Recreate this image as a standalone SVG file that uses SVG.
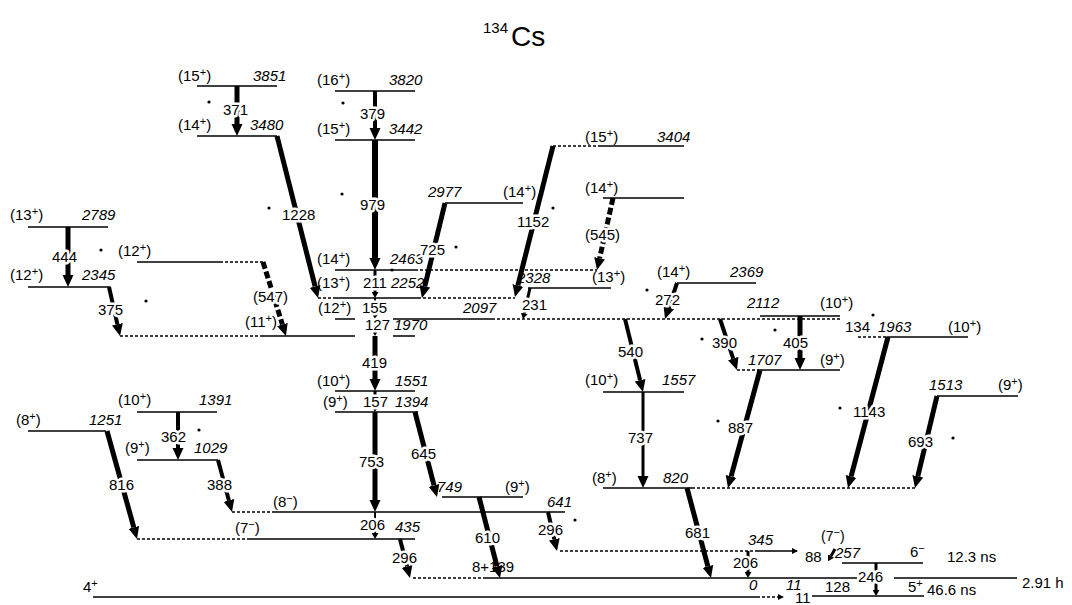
<svg xmlns="http://www.w3.org/2000/svg" width="1072" height="605" viewBox="0 0 1072 605">
<defs>
<style>
text{font-family:"Liberation Sans",Arial,sans-serif;font-size:15px;fill:#000}
.e{font-style:italic}
.t{stroke:#fff;stroke-width:5;stroke-linejoin:round;paint-order:stroke}
.l{stroke:#000;stroke-width:1.5;fill:none}
.d{stroke:#000;stroke-width:1.5;fill:none;stroke-dasharray:3 2}
.g{stroke:#000;fill:none}
.k{stroke-dasharray:7 3}
.p{font-size:11px}
</style>
<marker id="a" viewBox="0 0 12 12" refX="0" refY="6" markerWidth="12" markerHeight="12" markerUnits="userSpaceOnUse" orient="auto"><path d="M0,0.5 L12,6 L0,11.5 z"/></marker>
<marker id="s" viewBox="0 0 7 7" refX="0" refY="3.5" markerWidth="7" markerHeight="7" markerUnits="userSpaceOnUse" orient="auto"><path d="M0,0 L6,3.5 L0,7 z"/></marker>
</defs>
<rect width="1072" height="605" fill="#fff"/>
<g id="title"><text x="483" y="33" font-size="17">134</text><text x="511" y="46" style="font-size:28px">Cs</text></g>

<g id="lv3851"><path class="l" d="M197,86H277"/><text x="178" y="81">(15<tspan class="p" dy="-5">+</tspan><tspan dy="5">)</tspan></text><text class="e" x="253" y="81">3851</text></g>
<g id="lv3480"><path class="l" d="M197,136H277"/><text x="178" y="130">(14<tspan class="p" dy="-5">+</tspan><tspan dy="5">)</tspan></text><text class="e" x="250" y="130">3480</text></g>
<g id="lv3820"><path class="l" d="M335,91H415"/><text x="317" y="85">(16<tspan class="p" dy="-5">+</tspan><tspan dy="5">)</tspan></text><text class="e" x="389" y="85">3820</text></g>
<g id="lv3442"><path class="l" d="M335,140H415"/><text x="317" y="134">(15<tspan class="p" dy="-5">+</tspan><tspan dy="5">)</tspan></text><text class="e" x="389" y="134">3442</text></g>
<g id="lv2789"><path class="l" d="M28,227H108"/><text x="10" y="220">(13<tspan class="p" dy="-5">+</tspan><tspan dy="5">)</tspan></text><text class="e" x="82" y="220">2789</text></g>
<g id="lv2345"><path class="l" d="M28,287H110"/><text x="10" y="280">(12<tspan class="p" dy="-5">+</tspan><tspan dy="5">)</tspan></text><text class="e" x="82" y="280">2345</text></g>
<g id="lv12a"><path class="l" d="M137,262H220"/><path class="d" d="M220,262H263"/><text x="118" y="256">(12<tspan class="p" dy="-5">+</tspan><tspan dy="5">)</tspan></text></g>
<g id="lv2977"><path class="l" d="M445,203H523"/><text class="e" x="428" y="197">2977</text><text x="503" y="197">(14<tspan class="p" dy="-5">+</tspan><tspan dy="5">)</tspan></text></g>
<g id="lv3404"><path class="d" d="M553,146H600"/><path class="l" d="M600,146H684"/><text x="585" y="142">(15<tspan class="p" dy="-5">+</tspan><tspan dy="5">)</tspan></text><text class="e" x="657" y="142">3404</text></g>
<g id="lv14b"><path class="l" d="M603,198H684"/><text x="585" y="193">(14<tspan class="p" dy="-5">+</tspan><tspan dy="5">)</tspan></text></g>
<g id="lv2463"><path class="l" d="M335,270H415"/><path class="d" d="M415,270H597"/><text x="317" y="264">(14<tspan class="p" dy="-5">+</tspan><tspan dy="5">)</tspan></text><text class="e" x="390" y="264">2463</text></g>
<g id="lv2252"><path class="d" d="M318,298H335"/><path class="l" d="M335,298H418"/><path class="d" d="M418,298H515"/><text x="317" y="288">(13<tspan class="p" dy="-5">+</tspan><tspan dy="5">)</tspan></text><text class="e" x="391" y="288">2252</text></g>
<g id="lv2328"><path class="l" d="M528,288H611"/><text class="e" x="517" y="283">2328</text><text x="592" y="282">(13<tspan class="p" dy="-5">+</tspan><tspan dy="5">)</tspan></text></g>
<g id="lv2369"><path class="l" d="M677,283H756"/><text x="657" y="277">(14<tspan class="p" dy="-5">+</tspan><tspan dy="5">)</tspan></text><text class="e" x="730" y="277">2369</text></g>
<g id="lv2097"><path class="l" d="M335,319H355M393,319H492"/><path class="d" d="M492,319H840"/><text x="318" y="313">(12<tspan class="p" dy="-5">+</tspan><tspan dy="5">)</tspan></text><text class="e" x="463" y="313">2097</text></g>
<g id="lv1970"><path class="d" d="M120,336H260"/><path class="l" d="M260,336H355M393,336H415"/><text x="245" y="327">(11<tspan class="p" dy="-5">+</tspan><tspan dy="5">)</tspan></text><text class="e" x="394" y="330">1970</text></g>
<g id="lv2112"><path class="l" d="M760,316H840"/><text class="e" x="747" y="308">2112</text><text x="820" y="308">(10<tspan class="p" dy="-5">+</tspan><tspan dy="5">)</tspan></text></g>
<g id="lv1963"><path class="d" d="M858,337H887"/><path class="l" d="M887,337H968"/><text class="e" x="878" y="332">1963</text><text x="948" y="332">(10<tspan class="p" dy="-5">+</tspan><tspan dy="5">)</tspan></text></g>
<g id="lv1707"><path class="d" d="M737,370H757"/><path class="l" d="M757,370H840"/><text class="e" x="748" y="365">1707</text><text x="820" y="365">(9<tspan class="p" dy="-5">+</tspan><tspan dy="5">)</tspan></text></g>
<g id="lv1513"><path class="l" d="M937,396H1018"/><text class="e" x="929" y="390">1513</text><text x="998" y="390">(9<tspan class="p" dy="-5">+</tspan><tspan dy="5">)</tspan></text></g>
<g id="lv1551"><path class="l" d="M335,391H415"/><text x="317" y="386">(10<tspan class="p" dy="-5">+</tspan><tspan dy="5">)</tspan></text><text class="e" x="395" y="386">1551</text></g>
<g id="lv1394"><path class="l" d="M335,412H418"/><text x="323" y="407">(9<tspan class="p" dy="-5">+</tspan><tspan dy="5">)</tspan></text><text class="e" x="395" y="407">1394</text></g>
<g id="lv1557"><path class="l" d="M603,392H684"/><text x="585" y="385">(10<tspan class="p" dy="-5">+</tspan><tspan dy="5">)</tspan></text><text class="e" x="662" y="385">1557</text></g>
<g id="lv820"><path class="l" d="M603,488H692"/><path class="d" d="M692,488H917"/><text x="592" y="483">(8<tspan class="p" dy="-5">+</tspan><tspan dy="5">)</tspan></text><text class="e" x="663" y="483">820</text></g>
<g id="lv1391"><path class="l" d="M137,412H217"/><text x="118" y="405">(10<tspan class="p" dy="-5">+</tspan><tspan dy="5">)</tspan></text><text class="e" x="199" y="405">1391</text></g>
<g id="lv1029"><path class="l" d="M137,460H218"/><text x="125" y="453">(9<tspan class="p" dy="-5">+</tspan><tspan dy="5">)</tspan></text><text class="e" x="194" y="453">1029</text></g>
<g id="lv1251"><path class="l" d="M28,431H106"/><text x="16" y="425">(8<tspan class="p" dy="-5">+</tspan><tspan dy="5">)</tspan></text><text class="e" x="89" y="425">1251</text></g>
<g id="lv749"><path class="l" d="M442,497H523"/><text class="e" x="437" y="492">749</text><text x="505" y="492">(9<tspan class="p" dy="-5">+</tspan><tspan dy="5">)</tspan></text></g>
<g id="lv641"><path class="d" d="M232,512H275"/><path class="l" d="M275,512H565"/><text x="273" y="507">(8<tspan class="p" dy="-5">−</tspan><tspan dy="5">)</tspan></text><text class="e" x="547" y="507">641</text></g>
<g id="lv435"><path class="d" d="M137,539H247"/><path class="l" d="M247,539H415"/><text x="235" y="533">(7<tspan class="p" dy="-5">−</tspan><tspan dy="5">)</tspan></text><text class="e" x="395" y="532">435</text></g>
<g id="lv345"><path class="d" d="M560,551H758"/><path class="l" d="M758,551H797"/><path d="M792,548L798,551L792,554z"/><text class="e" x="748" y="545">345</text></g>
<g id="lv257"><path class="l" d="M842,563H923"/><text x="821" y="541" style="font-size:14px">(7<tspan class="p" dy="-5">−</tspan><tspan dy="5">)</tspan></text><text class="e" x="835" y="558">257</text><text x="910" y="557">6<tspan class="p" dy="-5">−</tspan></text><text x="947" y="562">12.3 ns</text></g>
<g id="lv139"><path class="d" d="M413,578H483"/><path class="l" d="M483,578H857M894,578H1017"/><text x="472" y="572">8+139</text><text class="e" x="749" y="590">0</text><text x="1022" y="588">2.91 h</text></g>
<g id="lv4"><path class="l" d="M93,597H757"/><path class="d" d="M757,597H781"/><path d="M778,594L784,597L778,600z"/><text x="83" y="592">4<tspan class="p" dy="-5">+</tspan></text><text class="e" x="786" y="590">11</text></g>
<g id="lv5"><path class="l" d="M812,596H924"/><text x="908" y="592">5<tspan class="p" dy="-5">+</tspan></text><text x="927" y="595">46.6 ns</text></g>

<g id="connectors">
<path class="g" stroke-width="5" marker-end="url(#a)" d="M237,86L237,124"/>
<path class="g" stroke-width="4" marker-end="url(#a)" d="M375,91L375,128"/>
<path class="g" stroke-width="6" marker-end="url(#a)" d="M375,140L375,258"/>
<path class="g" stroke-width="3" marker-end="url(#s)" d="M375,270L375,292"/>
<path class="g" stroke-width="2" marker-end="url(#s)" d="M375,298L375,313"/>
<path class="g" stroke-width="2" marker-end="url(#s)" d="M375,319L375,330"/>
<path class="g" stroke-width="5" marker-end="url(#a)" d="M375,336L375,379"/>
<path class="g" stroke-width="3" marker-end="url(#s)" d="M375,391L375,406"/>
<path class="g" stroke-width="5" marker-end="url(#a)" d="M375,412L375,500"/>
<path class="g" stroke-width="2" marker-end="url(#s)" d="M375,512L375,533"/>
<path class="g" stroke-width="5" marker-end="url(#a)" d="M68,227L68,275"/>
<path class="g" stroke-width="4" marker-end="url(#a)" d="M178,412L178,448"/>
<path class="g" stroke-width="3" marker-end="url(#a)" d="M643,392L643,476"/>
<path class="g" stroke-width="5" marker-end="url(#a)" d="M800,316L800,358"/>
<path class="g" stroke-width="3" marker-end="url(#s)" d="M748,551L748,572"/>
<path class="g" stroke-width="3" marker-end="url(#s)" d="M876,563L876,590"/>
<path class="g" stroke-width="3" marker-end="url(#s)" d="M835,549L831,556"/>
<path class="g" stroke-width="5" marker-end="url(#a)" d="M277,136L315.1,286.4"/>
<path class="g" stroke-width="4" marker-end="url(#a)" d="M109,287L117.4,324.3"/>
<path class="g k" stroke-width="5" marker-end="url(#a)" d="M263,262L282.4,324.5"/>
<path class="g" stroke-width="5" marker-end="url(#a)" d="M445,203L424.8,286.3"/>
<path class="g" stroke-width="5" marker-end="url(#a)" d="M553,146L517.9,285.4"/>
<path class="g k" stroke-width="5" marker-end="url(#a)" d="M613,198L599.6,258.3"/>
<path class="g" stroke-width="3" marker-end="url(#s)" d="M530,288L524.3,313.2"/>
<path class="g" stroke-width="4" marker-end="url(#a)" d="M677,283L668.8,307.6"/>
<path class="g" stroke-width="4" marker-end="url(#a)" d="M625,319L640.1,380.3"/>
<path class="g" stroke-width="4" marker-end="url(#a)" d="M720,319L733.2,358.6"/>
<path class="g" stroke-width="5" marker-end="url(#a)" d="M760,370L731.1,476.4"/>
<path class="g" stroke-width="5" marker-end="url(#a)" d="M888,337L851.1,476.4"/>
<path class="g" stroke-width="5" marker-end="url(#a)" d="M937,396L917.8,476.3"/>
<path class="g" stroke-width="5" marker-end="url(#a)" d="M687,488L707.9,566.4"/>
<path class="g" stroke-width="5" marker-end="url(#a)" d="M107,431L133.8,527.4"/>
<path class="g" stroke-width="4" marker-end="url(#a)" d="M218,460L228.9,500.4"/>
<path class="g" stroke-width="5" marker-end="url(#a)" d="M415,412L434,485.4"/>
<path class="g" stroke-width="5" marker-end="url(#a)" d="M479,497L497,566.4"/>
<path class="g" stroke-width="4" marker-end="url(#a)" d="M400,539L407,566.4"/>
<path class="g" stroke-width="4" marker-end="url(#a)" d="M548,512L554.3,539.3"/>

<text class="t" x="223" y="115">371</text>
<text class="t" x="360" y="119">379</text>
<text class="t" x="360" y="210">979</text>
<text class="t" x="282" y="220">1228</text>
<text class="t" x="52" y="262">444</text>
<text class="t" x="98" y="315">375</text>
<text class="t" x="253" y="302">(547)</text>
<text class="t" x="420" y="255">725</text>
<text class="t" x="517" y="227">1152</text>
<text class="t" x="585" y="240">(545)</text>
<text class="t" x="363" y="288">211</text>
<text class="t" x="362" y="313">155</text>
<text class="t" x="365" y="330">127</text>
<text class="t" x="522" y="310">231</text>
<text class="t" x="655" y="305">272</text>
<text class="t" x="618" y="357">540</text>
<text class="t" x="712" y="348">390</text>
<text class="t" x="783" y="348">405</text>
<text class="t" x="845" y="332">134</text>
<text class="t" x="362" y="368">419</text>
<text class="t" x="363" y="407">157</text>
<text class="t" x="359" y="467">753</text>
<text class="t" x="411" y="459">645</text>
<text class="t" x="628" y="443">737</text>
<text class="t" x="728" y="433">887</text>
<text class="t" x="853" y="417">1143</text>
<text class="t" x="908" y="447">693</text>
<text class="t" x="109" y="490">816</text>
<text class="t" x="161" y="442">362</text>
<text class="t" x="207" y="490">388</text>
<text class="t" x="360" y="530">206</text>
<text class="t" x="392" y="563">296</text>
<text class="t" x="475" y="543">610</text>
<text class="t" x="538" y="535">296</text>
<text class="t" x="685" y="538">681</text>
<text class="t" x="733" y="568">206</text>
<text class="t" x="805" y="562">88</text>
<text class="t" x="795" y="603">11</text>
<text class="t" x="825" y="592">128</text>
<text class="t" x="858" y="582">246</text>
</g>
<g id="marks">
<circle cx="209" cy="102" r="1.6"/><circle cx="343" cy="103" r="1.6"/><circle cx="269" cy="208" r="1.6"/><circle cx="342" cy="194" r="1.6"/><circle cx="101" cy="250" r="1.6"/><circle cx="146" cy="301" r="1.6"/><circle cx="392" cy="270" r="1.6"/><circle cx="456" cy="247" r="1.6"/><circle cx="553" cy="208" r="1.6"/><circle cx="647" cy="290" r="1.6"/><circle cx="702" cy="339" r="1.6"/><circle cx="775" cy="330" r="1.6"/><circle cx="873" cy="315" r="1.6"/><circle cx="840" cy="408" r="1.6"/><circle cx="718" cy="421" r="1.6"/><circle cx="953" cy="438" r="1.6"/><circle cx="199" cy="430" r="1.6"/><circle cx="575" cy="520" r="1.6"/>
</g>
</svg>
